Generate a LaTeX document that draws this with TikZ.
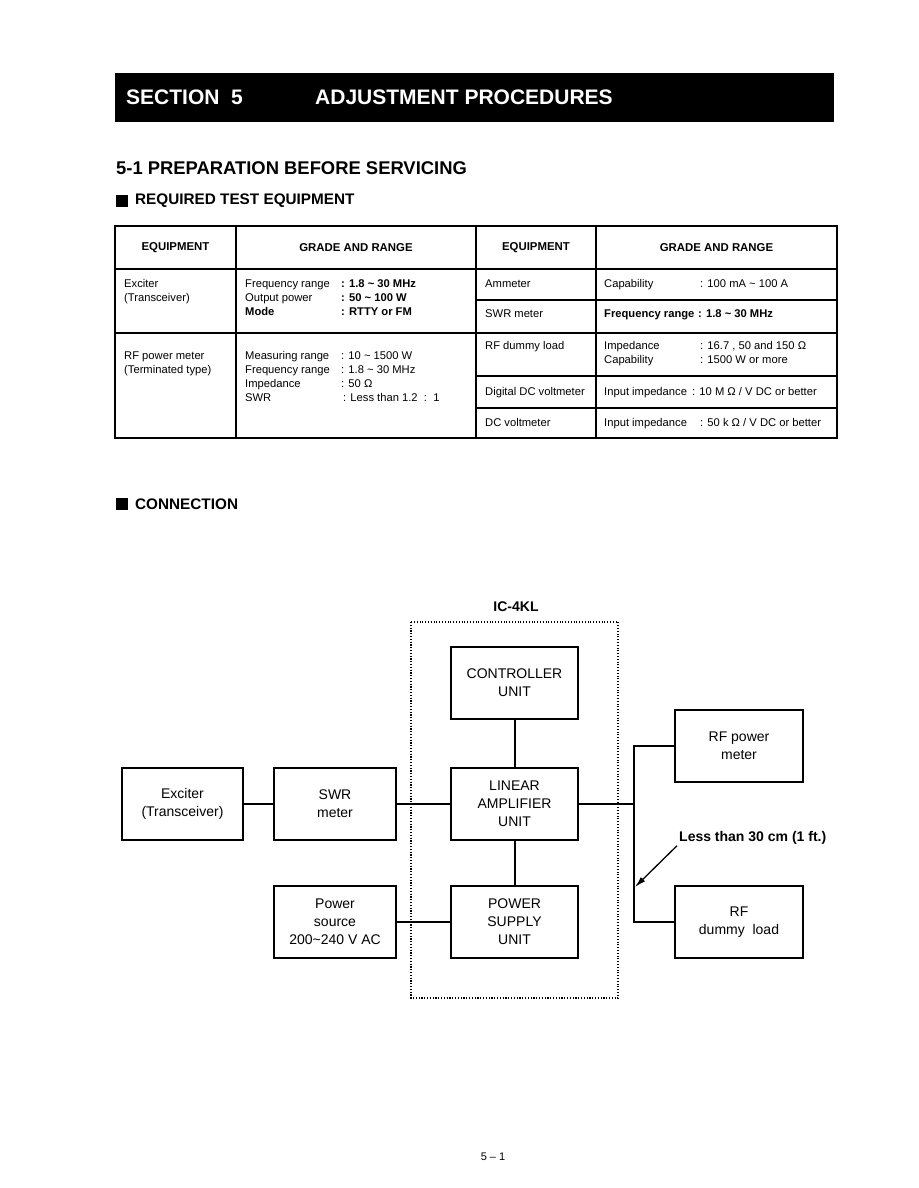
\documentclass[tikz,border=0pt]{standalone}
\usepackage{fontspec}
\setmainfont{Liberation Sans}
\usetikzlibrary{arrows.meta}
\newcommand{\tild}{\textasciitilde}

\begin{document}
\begin{tikzpicture}[x=1pt,y=-1pt,
  box/.style={draw,line width=2pt,minimum width=127pt,minimum height=72pt,inner sep=0,align=center,font=\fontsize{14}{18}\selectfont},
  wire/.style={line width=2pt},
  grid/.style={line width=1.5pt},
  tab/.style={anchor=west,inner sep=0,text height=8.5pt,text depth=2.5pt,font=\fontsize{11.2}{13}\selectfont},
  tabhead/.style={inner sep=0,font=\bfseries\fontsize{11.4}{13}\selectfont},
  head/.style={anchor=west,inner sep=0,font=\bfseries\fontsize{15.3}{18}\selectfont}]
  \fill[white] (0,0) rectangle (918,1188);
  \useasboundingbox (0,0) rectangle (918,1188);

  \fill (115,73) rectangle (834,122);
  \node[head,white,font=\bfseries\fontsize{21}{25}\selectfont] (sec) at (126,97) {SECTION\ \ 5};
  \node[head,white,font=\bfseries\fontsize{21}{25}\selectfont] (title) at (315,97) {ADJUSTMENT PROCEDURES};
  \node[head,font=\bfseries\fontsize{18.4}{22}\selectfont] (prep) at (116,168) {5-1 PREPARATION BEFORE SERVICING};
  \fill (116,195) rectangle (128,207);
  \node[head] (req) at (135,201) {REQUIRED TEST EQUIPMENT};

  \draw[grid] (115,226) rectangle (837,438);
  \foreach \x in {236,476,596}{\draw[grid] (\x,226) -- (\x,438);}
  \draw[grid] (115,269) -- (837,269);
  \draw[grid] (115,333) -- (476,333);
  \foreach \y in {300,333,376,408}{\draw[grid] (476,\y) -- (837,\y);}
  \foreach \x/\lab [count=\i] in {175.5/EQUIPMENT,356/GRADE AND RANGE,536/EQUIPMENT,716.5/GRADE AND RANGE}{
    \node[tabhead] (h\i) at (\x,248) {\lab};
  }

  \node[tab] (exa) at (124,284) {Exciter};
  \node[tab] (exb) at (124,298) {(Transceiver)};
  \foreach \y/\a/\b [count=\i] in {284/Frequency range/\textbf{: 1.8 \tild\ 30 MHz},298/Output power/\textbf{: 50 \tild\ 100 W},312/\textbf{Mode}/\textbf{: RTTY or FM}}{
    \node[tab] (ea\i) at (245,\y) {\a};
    \node[tab] (eb\i) at (341,\y) {\b};
  }
  \node[tab] (pma) at (124,356) {RF power meter};
  \node[tab] (pmb) at (124,370) {(Terminated type)};
  \foreach \y/\a/\b [count=\i] in {356/Measuring range/: 10 \tild\ 1500 W,370/Frequency range/: 1.8 \tild\ 30 MHz,384/Impedance/: 50 Ω}{
    \node[tab] (pa\i) at (245,\y) {\a};
    \node[tab] (pb\i) at (341,\y) {\b};
  }
  \node[tab] (pa4) at (245,398) {SWR};
  \node[tab] (pb4) at (343,398) {: Less than 1.2\ \ :\ \ 1};

  \foreach \y/\a [count=\i] in {284/Ammeter,314/SWR meter,346/RF dummy load,392/Digital DC voltmeter,423/DC voltmeter}{
    \node[tab] (ra\i) at (485,\y) {\a};
  }
  \node[tab] (rb1) at (604,284) {Capability};
  \node[tab] (rc1) at (700,284) {: 100 mA \tild\ 100 A};
  \node[tab] (rb2) at (604,314) {\textbf{Frequency range}};
  \node[tab] (rc2) at (698,314) {\textbf{: 1.8 \tild\ 30 MHz}};
  \node[tab] (rb3) at (604,346) {Impedance};
  \node[tab] (rc3) at (700,346) {: 16.7 , 50 and 150 Ω};
  \node[tab] (rb4) at (604,360) {Capability};
  \node[tab] (rc4) at (700,360) {: 1500 W or more};
  \node[tab] (rb5) at (604,392) {Input impedance};
  \node[tab] (rc5) at (692,392) {: 10 M Ω / V DC or better};
  \node[tab] (rb6) at (604,423) {Input impedance};
  \node[tab] (rc6) at (700,423) {: 50 k Ω / V DC or better};

  \fill (116,498) rectangle (128,510);
  \node[head] (conn) at (135,504) {CONNECTION};

  \node[inner sep=0,font=\bfseries\fontsize{14}{17}\selectfont] (ic) at (516,607) {IC-4KL};
  \draw[line width=1.1pt,dash pattern=on 1.1pt off 1.7pt] (411,622) rectangle (618,998);

  \node[box] (ctrl) at (514.5,683) {CONTROLLER\\UNIT};
  \node[box] (lin) at (514.5,804) {LINEAR\\AMPLIFIER\\UNIT};
  \node[box] (pwr) at (514.5,922) {POWER\\SUPPLY\\UNIT};
  \node[box,minimum width=121pt] (exc) at (182.5,804) {Exciter\\(Transceiver)};
  \node[box,minimum width=122pt] (swr) at (335,804) {SWR\\meter};
  \node[box,minimum width=122pt] (src) at (335,922) {Power\\source\\200\tild 240 V AC};
  \node[box,minimum width=128pt] (rfpm) at (739,746) {RF power\\meter};
  \node[box,minimum width=128pt] (load) at (739,922) {RF\\dummy\ \ load};

  \draw[wire] (exc) -- (swr);
  \draw[wire] (swr) -- (lin);
  \draw[wire] (src) -- (pwr);
  \draw[wire] (ctrl) -- (lin);
  \draw[wire] (lin) -- (pwr);
  \coordinate (jn) at (634,804);
  \draw[wire] (lin) -- (jn);
  \draw[wire] (rfpm.west) -| (jn) |- (load.west);

  \node[head,font=\bfseries\fontsize{14}{17}\selectfont] (note) at (679,838) {Less than 30 cm (1 ft.)};
  \coordinate (tip) at (635,887);
  \draw[line width=1.3pt,-{Latex[length=11pt,width=6pt]}] ([xshift=-2pt,yshift=-1pt]note.south west) -- (tip);

  \node[inner sep=0,font=\fontsize{11}{13}\selectfont] (pg) at (493,1157) {5\ --\ 1};
\end{tikzpicture}
\end{document}
